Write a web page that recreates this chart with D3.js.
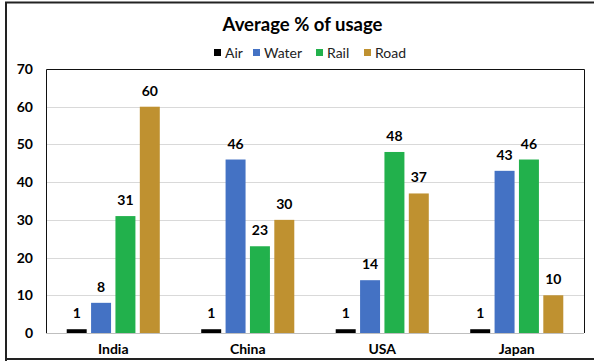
<!DOCTYPE html>
<html>
<head>
<meta charset="utf-8">
<script src="https://cdn.jsdelivr.net/npm/d3@7"></script>
<style>
  html, body { margin: 0; padding: 0; background: #fff; }
  svg { display: block; }
  text { font-family: Lato, "Open Sans", sans-serif; }
</style>
</head>
<body>
<svg id="chart" width="594" height="361"></svg>
<script>
const titleText = "Average % of usage";
const categories = ["India", "China", "USA", "Japan"];
const seriesNames = ["Air", "Water", "Rail", "Road"];
const seriesColors = ["#000000", "#4472C4", "#22B14C", "#BF9130"];
const airValues = [1, 1, 1, 1];
const waterValues = [8, 46, 14, 43];
const railValues = [31, 23, 48, 46];
const roadValues = [60, 30, 37, 10];
const yTicks = [0, 10, 20, 30, 40, 50, 60, 70];

const seriesValues = [airValues, waterValues, railValues, roadValues];

const svg = d3.select("#chart");
const W = 594, H = 361;
const plot = { left: 46, right: 584, top: 69, bottom: 333 };

// outer frame
svg.append("path")
  .attr("d", `M6,${H + 2} L6,2.5 L${W + 2},2.5 M6,359 L${W + 2},359`)
  .attr("fill", "none").attr("stroke", "#222").attr("stroke-width", 2);

// title
svg.append("text")
  .attr("x", 302.5).attr("y", 31)
  .attr("text-anchor", "middle")
  .attr("font-size", 18.5).attr("font-weight", "bold").attr("fill", "#000")
  .text(titleText);

// scales
const x0 = d3.scaleBand().domain(categories).range([plot.left, plot.right]).padding(0);
const groupMargin = x0.bandwidth() * 0.154;
const x1 = d3.scaleBand().domain(seriesNames)
  .range([groupMargin, x0.bandwidth() - groupMargin])
  .paddingInner(0.18).paddingOuter(0);
const y = d3.scaleLinear().domain([0, 70]).range([plot.bottom, plot.top]);
const color = d3.scaleOrdinal().domain(seriesNames).range(seriesColors);

// gridlines
svg.append("g")
  .selectAll("line").data(yTicks.filter(t => t > 0 && t < 70))
  .join("line")
  .attr("x1", plot.left).attr("x2", plot.right)
  .attr("y1", d => Math.round(y(d)) + 0.5).attr("y2", d => Math.round(y(d)) + 0.5)
  .attr("stroke", "#d9d9d9").attr("stroke-width", 1);

// baseline
svg.append("line")
  .attr("x1", plot.left).attr("x2", plot.right)
  .attr("y1", plot.bottom + 0.5).attr("y2", plot.bottom + 0.5)
  .attr("stroke", "#bfbfbf").attr("stroke-width", 1);

// plot frame (left, top, right)
svg.append("path")
  .attr("d", `M${plot.left + 0.5},${plot.bottom} L${plot.left + 0.5},${plot.top + 0.5} L${plot.right + 0.5},${plot.top + 0.5} L${plot.right + 0.5},${plot.bottom}`)
  .attr("fill", "none").attr("stroke", "#111").attr("stroke-width", 1);

// y axis labels via d3 axis
const yAxis = d3.axisLeft(y).tickValues(yTicks).tickSize(0).tickPadding(0);
const yg = svg.append("g").attr("transform", `translate(33,0)`).call(yAxis);
yg.select(".domain").remove();
yg.selectAll("text")
  .attr("font-family", "Lato, 'Open Sans', sans-serif")
  .attr("font-size", 14).attr("font-weight", "bold").attr("fill", "#000");

// x axis labels
const xAxis = d3.axisBottom(x0).tickSize(0).tickPadding(0);
const xg = svg.append("g").attr("transform", `translate(0,344)`).call(xAxis);
xg.select(".domain").remove();
xg.selectAll("text")
  .attr("font-family", "Lato, 'Open Sans', sans-serif")
  .attr("font-size", 14).attr("font-weight", "bold").attr("fill", "#000");

// bars
const data = [];
categories.forEach((c, i) => {
  seriesNames.forEach((s, j) => data.push({ cat: c, series: s, value: seriesValues[j][i] }));
});

const groups = svg.append("g");
groups.selectAll("rect").data(data).join("rect")
  .attr("x", d => x0(d.cat) + x1(d.series))
  .attr("width", x1.bandwidth())
  .attr("y", d => y(d.value))
  .attr("height", d => y(0) - y(d.value))
  .attr("fill", d => color(d.series));

groups.selectAll("text").data(data).join("text")
  .attr("x", d => x0(d.cat) + x1(d.series) + x1.bandwidth() / 2)
  .attr("y", d => y(d.value) - 11)
  .attr("text-anchor", "middle")
  .attr("font-size", 14).attr("font-weight", "bold").attr("fill", "#000")
  .text(d => d.value);

// legend
const legendX = [214, 253, 316, 364];
const legend = svg.append("g");
seriesNames.forEach((s, j) => {
  legend.append("rect")
    .attr("x", legendX[j]).attr("y", 49).attr("width", 7).attr("height", 7)
    .attr("fill", color(s));
  legend.append("text")
    .attr("x", legendX[j] + 11).attr("y", 58)
    .attr("font-size", 14).attr("fill", "#222")
    .text(s);
});
</script>
</body>
</html>
